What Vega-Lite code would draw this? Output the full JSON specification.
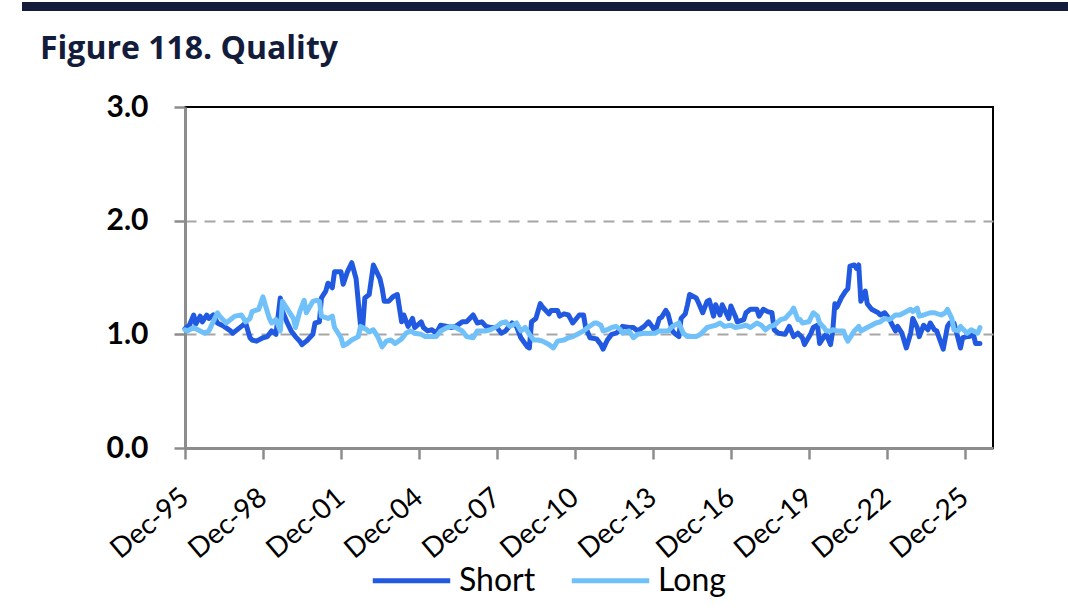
{
"$schema": "https://vega.github.io/schema/vega-lite/v6.json",
"padding": {"left": 22, "top": 0, "right": 0, "bottom": 0},
"background": "white",
"spacing": 20,
"config": {"view": {"stroke": null}, "font": "Lato"},
"datasets": {"q": [
{"d":"1995-12-01","k":"Short","v":1.05},{"d":"1996-02-01","k":"Short","v":1.08},{"d":"1996-04-01","k":"Short","v":1.17},{"d":"1996-05-01","k":"Short","v":1.09},{"d":"1996-07-01","k":"Short","v":1.16},{"d":"1996-08-01","k":"Short","v":1.11},{"d":"1996-10-01","k":"Short","v":1.17},{"d":"1996-11-01","k":"Short","v":1.14},{"d":"1997-01-01","k":"Short","v":1.17},{"d":"1997-03-01","k":"Short","v":1.10},{"d":"1997-06-01","k":"Short","v":1.07},{"d":"1997-09-01","k":"Short","v":1.03},{"d":"1997-10-01","k":"Short","v":1.01},{"d":"1998-02-01","k":"Short","v":1.07},{"d":"1998-04-01","k":"Short","v":1.10},{"d":"1998-06-01","k":"Short","v":0.97},{"d":"1998-07-01","k":"Short","v":0.95},{"d":"1998-09-01","k":"Short","v":0.94},{"d":"1998-12-01","k":"Short","v":0.97},{"d":"1999-02-01","k":"Short","v":0.98},{"d":"1999-04-01","k":"Short","v":1.03},{"d":"1999-06-01","k":"Short","v":1.00},{"d":"1999-08-01","k":"Short","v":1.32},{"d":"1999-09-01","k":"Short","v":1.20},{"d":"1999-11-01","k":"Short","v":1.11},{"d":"2000-01-01","k":"Short","v":1.03},{"d":"2000-03-01","k":"Short","v":0.98},{"d":"2000-05-01","k":"Short","v":0.94},{"d":"2000-06-01","k":"Short","v":0.91},{"d":"2000-08-01","k":"Short","v":0.94},{"d":"2000-11-01","k":"Short","v":1.00},{"d":"2000-12-01","k":"Short","v":1.10},{"d":"2001-02-01","k":"Short","v":1.11},{"d":"2001-03-01","k":"Short","v":1.32},{"d":"2001-05-01","k":"Short","v":1.38},{"d":"2001-06-01","k":"Short","v":1.45},{"d":"2001-08-01","k":"Short","v":1.41},{"d":"2001-09-01","k":"Short","v":1.55},{"d":"2001-12-01","k":"Short","v":1.55},{"d":"2002-01-01","k":"Short","v":1.44},{"d":"2002-03-01","k":"Short","v":1.55},{"d":"2002-05-01","k":"Short","v":1.63},{"d":"2002-07-01","k":"Short","v":1.49},{"d":"2002-09-01","k":"Short","v":1.08},{"d":"2002-10-01","k":"Short","v":1.06},{"d":"2002-11-01","k":"Short","v":1.32},{"d":"2003-01-01","k":"Short","v":1.35},{"d":"2003-03-01","k":"Short","v":1.61},{"d":"2003-06-01","k":"Short","v":1.49},{"d":"2003-07-01","k":"Short","v":1.41},{"d":"2003-08-01","k":"Short","v":1.29},{"d":"2003-10-01","k":"Short","v":1.29},{"d":"2003-12-01","k":"Short","v":1.33},{"d":"2004-02-01","k":"Short","v":1.35},{"d":"2004-04-01","k":"Short","v":1.11},{"d":"2004-05-01","k":"Short","v":1.17},{"d":"2004-07-01","k":"Short","v":1.07},{"d":"2004-09-01","k":"Short","v":1.14},{"d":"2004-10-01","k":"Short","v":1.06},{"d":"2005-01-01","k":"Short","v":1.11},{"d":"2005-02-01","k":"Short","v":1.06},{"d":"2005-04-01","k":"Short","v":1.03},{"d":"2005-06-01","k":"Short","v":1.04},{"d":"2005-08-01","k":"Short","v":1.01},{"d":"2005-10-01","k":"Short","v":1.08},{"d":"2006-01-01","k":"Short","v":1.07},{"d":"2006-03-01","k":"Short","v":1.06},{"d":"2006-05-01","k":"Short","v":1.07},{"d":"2006-08-01","k":"Short","v":1.11},{"d":"2006-10-01","k":"Short","v":1.11},{"d":"2007-01-01","k":"Short","v":1.17},{"d":"2007-03-01","k":"Short","v":1.10},{"d":"2007-05-01","k":"Short","v":1.11},{"d":"2007-07-01","k":"Short","v":1.07},{"d":"2007-09-01","k":"Short","v":1.06},{"d":"2007-12-01","k":"Short","v":1.06},{"d":"2008-02-01","k":"Short","v":1.01},{"d":"2008-04-01","k":"Short","v":1.03},{"d":"2008-07-01","k":"Short","v":1.10},{"d":"2008-09-01","k":"Short","v":1.07},{"d":"2008-11-01","k":"Short","v":0.97},{"d":"2009-02-01","k":"Short","v":0.89},{"d":"2009-03-01","k":"Short","v":0.88},{"d":"2009-04-01","k":"Short","v":1.11},{"d":"2009-06-01","k":"Short","v":1.14},{"d":"2009-08-01","k":"Short","v":1.27},{"d":"2009-09-01","k":"Short","v":1.24},{"d":"2009-12-01","k":"Short","v":1.18},{"d":"2010-01-01","k":"Short","v":1.21},{"d":"2010-04-01","k":"Short","v":1.21},{"d":"2010-05-01","k":"Short","v":1.16},{"d":"2010-07-01","k":"Short","v":1.18},{"d":"2010-09-01","k":"Short","v":1.17},{"d":"2010-11-01","k":"Short","v":1.10},{"d":"2011-02-01","k":"Short","v":1.17},{"d":"2011-04-01","k":"Short","v":1.17},{"d":"2011-05-01","k":"Short","v":1.06},{"d":"2011-07-01","k":"Short","v":0.97},{"d":"2011-10-01","k":"Short","v":0.96},{"d":"2011-12-01","k":"Short","v":0.91},{"d":"2012-01-01","k":"Short","v":0.87},{"d":"2012-03-01","k":"Short","v":0.95},{"d":"2012-05-01","k":"Short","v":1.00},{"d":"2012-07-01","k":"Short","v":1.01},{"d":"2012-09-01","k":"Short","v":1.04},{"d":"2012-10-01","k":"Short","v":1.07},{"d":"2013-01-01","k":"Short","v":1.06},{"d":"2013-03-01","k":"Short","v":1.06},{"d":"2013-05-01","k":"Short","v":1.03},{"d":"2013-08-01","k":"Short","v":1.07},{"d":"2013-10-01","k":"Short","v":1.11},{"d":"2013-12-01","k":"Short","v":1.06},{"d":"2014-01-01","k":"Short","v":1.02},{"d":"2014-03-01","k":"Short","v":1.14},{"d":"2014-04-01","k":"Short","v":1.15},{"d":"2014-06-01","k":"Short","v":1.21},{"d":"2014-07-01","k":"Short","v":1.18},{"d":"2014-09-01","k":"Short","v":1.03},{"d":"2014-10-01","k":"Short","v":1.01},{"d":"2014-12-01","k":"Short","v":0.98},{"d":"2015-01-01","k":"Short","v":1.14},{"d":"2015-03-01","k":"Short","v":1.18},{"d":"2015-04-01","k":"Short","v":1.26},{"d":"2015-05-01","k":"Short","v":1.35},{"d":"2015-08-01","k":"Short","v":1.32},{"d":"2015-09-01","k":"Short","v":1.28},{"d":"2015-11-01","k":"Short","v":1.19},{"d":"2016-01-01","k":"Short","v":1.29},{"d":"2016-02-01","k":"Short","v":1.30},{"d":"2016-04-01","k":"Short","v":1.16},{"d":"2016-05-01","k":"Short","v":1.26},{"d":"2016-07-01","k":"Short","v":1.17},{"d":"2016-08-01","k":"Short","v":1.26},{"d":"2016-11-01","k":"Short","v":1.14},{"d":"2016-12-01","k":"Short","v":1.25},{"d":"2017-02-01","k":"Short","v":1.16},{"d":"2017-03-01","k":"Short","v":1.11},{"d":"2017-06-01","k":"Short","v":1.13},{"d":"2017-07-01","k":"Short","v":1.19},{"d":"2017-09-01","k":"Short","v":1.22},{"d":"2017-12-01","k":"Short","v":1.22},{"d":"2018-01-01","k":"Short","v":1.16},{"d":"2018-03-01","k":"Short","v":1.22},{"d":"2018-05-01","k":"Short","v":1.20},{"d":"2018-07-01","k":"Short","v":1.19},{"d":"2018-08-01","k":"Short","v":1.04},{"d":"2018-10-01","k":"Short","v":1.01},{"d":"2019-01-01","k":"Short","v":1.00},{"d":"2019-03-01","k":"Short","v":1.07},{"d":"2019-05-01","k":"Short","v":0.98},{"d":"2019-07-01","k":"Short","v":1.01},{"d":"2019-09-01","k":"Short","v":0.97},{"d":"2019-10-01","k":"Short","v":0.91},{"d":"2020-01-01","k":"Short","v":1.01},{"d":"2020-02-01","k":"Short","v":1.06},{"d":"2020-04-01","k":"Short","v":1.08},{"d":"2020-05-01","k":"Short","v":0.92},{"d":"2020-07-01","k":"Short","v":0.98},{"d":"2020-08-01","k":"Short","v":1.00},{"d":"2020-10-01","k":"Short","v":0.91},{"d":"2020-11-01","k":"Short","v":1.03},{"d":"2020-12-01","k":"Short","v":1.27},{"d":"2021-01-01","k":"Short","v":1.24},{"d":"2021-03-01","k":"Short","v":1.32},{"d":"2021-05-01","k":"Short","v":1.38},{"d":"2021-06-01","k":"Short","v":1.40},{"d":"2021-07-01","k":"Short","v":1.60},{"d":"2021-09-01","k":"Short","v":1.61},{"d":"2021-10-01","k":"Short","v":1.58},{"d":"2021-11-01","k":"Short","v":1.61},{"d":"2021-12-01","k":"Short","v":1.29},{"d":"2022-02-01","k":"Short","v":1.38},{"d":"2022-03-01","k":"Short","v":1.27},{"d":"2022-05-01","k":"Short","v":1.22},{"d":"2022-08-01","k":"Short","v":1.19},{"d":"2022-09-01","k":"Short","v":1.17},{"d":"2022-11-01","k":"Short","v":1.19},{"d":"2023-01-01","k":"Short","v":1.14},{"d":"2023-02-01","k":"Short","v":1.10},{"d":"2023-04-01","k":"Short","v":1.03},{"d":"2023-05-01","k":"Short","v":1.07},{"d":"2023-07-01","k":"Short","v":1.01},{"d":"2023-09-01","k":"Short","v":0.88},{"d":"2023-11-01","k":"Short","v":1.01},{"d":"2023-12-01","k":"Short","v":1.14},{"d":"2024-02-01","k":"Short","v":1.06},{"d":"2024-03-01","k":"Short","v":0.98},{"d":"2024-05-01","k":"Short","v":1.08},{"d":"2024-07-01","k":"Short","v":1.04},{"d":"2024-08-01","k":"Short","v":1.10},{"d":"2024-10-01","k":"Short","v":1.04},{"d":"2024-11-01","k":"Short","v":1.03},{"d":"2025-02-01","k":"Short","v":0.87},{"d":"2025-04-01","k":"Short","v":1.07},{"d":"2025-05-01","k":"Short","v":1.10},{"d":"2025-07-01","k":"Short","v":1.10},{"d":"2025-08-01","k":"Short","v":1.03},{"d":"2025-10-01","k":"Short","v":0.88},{"d":"2025-11-01","k":"Short","v":0.97},{"d":"2026-01-01","k":"Short","v":0.98},{"d":"2026-02-01","k":"Short","v":0.98},{"d":"2026-04-01","k":"Short","v":1.00},{"d":"2026-05-01","k":"Short","v":0.92},{"d":"2026-07-01","k":"Short","v":0.92},
{"d":"1995-12-01","k":"Long","v":1.04},{"d":"1996-01-01","k":"Long","v":1.03},{"d":"1996-04-01","k":"Long","v":1.06},{"d":"1996-07-01","k":"Long","v":1.03},{"d":"1996-09-01","k":"Long","v":1.01},{"d":"1996-11-01","k":"Long","v":1.03},{"d":"1997-03-01","k":"Long","v":1.19},{"d":"1997-04-01","k":"Long","v":1.16},{"d":"1997-07-01","k":"Long","v":1.10},{"d":"1997-09-01","k":"Long","v":1.13},{"d":"1997-11-01","k":"Long","v":1.16},{"d":"1998-02-01","k":"Long","v":1.17},{"d":"1998-04-01","k":"Long","v":1.11},{"d":"1998-06-01","k":"Long","v":1.14},{"d":"1998-07-01","k":"Long","v":1.20},{"d":"1998-10-01","k":"Long","v":1.22},{"d":"1998-12-01","k":"Long","v":1.33},{"d":"1999-01-01","k":"Long","v":1.26},{"d":"1999-03-01","k":"Long","v":1.14},{"d":"1999-04-01","k":"Long","v":1.10},{"d":"1999-06-01","k":"Long","v":1.13},{"d":"1999-08-01","k":"Long","v":1.03},{"d":"1999-09-01","k":"Long","v":1.29},{"d":"1999-12-01","k":"Long","v":1.20},{"d":"2000-02-01","k":"Long","v":1.14},{"d":"2000-03-01","k":"Long","v":1.06},{"d":"2000-05-01","k":"Long","v":1.20},{"d":"2000-07-01","k":"Long","v":1.30},{"d":"2000-08-01","k":"Long","v":1.19},{"d":"2000-11-01","k":"Long","v":1.29},{"d":"2001-01-01","k":"Long","v":1.30},{"d":"2001-02-01","k":"Long","v":1.29},{"d":"2001-03-01","k":"Long","v":1.16},{"d":"2001-06-01","k":"Long","v":1.14},{"d":"2001-08-01","k":"Long","v":1.16},{"d":"2001-09-01","k":"Long","v":1.06},{"d":"2001-12-01","k":"Long","v":0.97},{"d":"2002-01-01","k":"Long","v":0.90},{"d":"2002-03-01","k":"Long","v":0.92},{"d":"2002-05-01","k":"Long","v":0.95},{"d":"2002-08-01","k":"Long","v":0.98},{"d":"2002-09-01","k":"Long","v":1.07},{"d":"2002-12-01","k":"Long","v":1.04},{"d":"2003-01-01","k":"Long","v":1.02},{"d":"2003-03-01","k":"Long","v":1.04},{"d":"2003-05-01","k":"Long","v":0.98},{"d":"2003-07-01","k":"Long","v":0.89},{"d":"2003-09-01","k":"Long","v":0.94},{"d":"2003-11-01","k":"Long","v":0.95},{"d":"2004-01-01","k":"Long","v":0.92},{"d":"2004-04-01","k":"Long","v":0.96},{"d":"2004-06-01","k":"Long","v":1.01},{"d":"2004-08-01","k":"Long","v":1.03},{"d":"2004-10-01","k":"Long","v":1.01},{"d":"2005-01-01","k":"Long","v":1.00},{"d":"2005-03-01","k":"Long","v":0.98},{"d":"2005-06-01","k":"Long","v":0.98},{"d":"2005-08-01","k":"Long","v":0.98},{"d":"2005-10-01","k":"Long","v":1.03},{"d":"2006-01-01","k":"Long","v":1.06},{"d":"2006-03-01","k":"Long","v":1.07},{"d":"2006-05-01","k":"Long","v":1.06},{"d":"2006-08-01","k":"Long","v":1.03},{"d":"2006-10-01","k":"Long","v":0.98},{"d":"2007-01-01","k":"Long","v":0.97},{"d":"2007-03-01","k":"Long","v":1.03},{"d":"2007-05-01","k":"Long","v":1.03},{"d":"2007-07-01","k":"Long","v":1.03},{"d":"2007-09-01","k":"Long","v":1.04},{"d":"2007-12-01","k":"Long","v":1.07},{"d":"2008-02-01","k":"Long","v":1.10},{"d":"2008-04-01","k":"Long","v":1.11},{"d":"2008-06-01","k":"Long","v":1.07},{"d":"2008-09-01","k":"Long","v":1.10},{"d":"2008-11-01","k":"Long","v":1.03},{"d":"2009-01-01","k":"Long","v":1.06},{"d":"2009-03-01","k":"Long","v":1.00},{"d":"2009-05-01","k":"Long","v":0.95},{"d":"2009-07-01","k":"Long","v":0.95},{"d":"2009-09-01","k":"Long","v":0.94},{"d":"2009-12-01","k":"Long","v":0.91},{"d":"2010-02-01","k":"Long","v":0.88},{"d":"2010-04-01","k":"Long","v":0.94},{"d":"2010-07-01","k":"Long","v":0.95},{"d":"2010-09-01","k":"Long","v":0.97},{"d":"2010-11-01","k":"Long","v":0.98},{"d":"2011-02-01","k":"Long","v":1.01},{"d":"2011-04-01","k":"Long","v":1.03},{"d":"2011-06-01","k":"Long","v":1.06},{"d":"2011-09-01","k":"Long","v":1.10},{"d":"2011-10-01","k":"Long","v":1.10},{"d":"2011-12-01","k":"Long","v":1.08},{"d":"2012-01-01","k":"Long","v":1.03},{"d":"2012-03-01","k":"Long","v":1.04},{"d":"2012-05-01","k":"Long","v":1.06},{"d":"2012-07-01","k":"Long","v":1.07},{"d":"2012-09-01","k":"Long","v":1.04},{"d":"2012-10-01","k":"Long","v":1.01},{"d":"2013-01-01","k":"Long","v":1.03},{"d":"2013-03-01","k":"Long","v":0.97},{"d":"2013-05-01","k":"Long","v":1.00},{"d":"2013-08-01","k":"Long","v":1.01},{"d":"2013-10-01","k":"Long","v":1.01},{"d":"2014-01-01","k":"Long","v":1.01},{"d":"2014-03-01","k":"Long","v":1.03},{"d":"2014-05-01","k":"Long","v":1.03},{"d":"2014-07-01","k":"Long","v":1.03},{"d":"2014-09-01","k":"Long","v":1.07},{"d":"2014-12-01","k":"Long","v":1.10},{"d":"2015-02-01","k":"Long","v":1.01},{"d":"2015-04-01","k":"Long","v":0.98},{"d":"2015-05-01","k":"Long","v":0.98},{"d":"2015-08-01","k":"Long","v":0.98},{"d":"2015-10-01","k":"Long","v":1.00},{"d":"2016-01-01","k":"Long","v":1.06},{"d":"2016-03-01","k":"Long","v":1.07},{"d":"2016-05-01","k":"Long","v":1.08},{"d":"2016-07-01","k":"Long","v":1.10},{"d":"2016-09-01","k":"Long","v":1.07},{"d":"2016-12-01","k":"Long","v":1.08},{"d":"2017-02-01","k":"Long","v":1.06},{"d":"2017-05-01","k":"Long","v":1.07},{"d":"2017-07-01","k":"Long","v":1.08},{"d":"2017-09-01","k":"Long","v":1.06},{"d":"2017-12-01","k":"Long","v":1.10},{"d":"2018-02-01","k":"Long","v":1.08},{"d":"2018-04-01","k":"Long","v":1.04},{"d":"2018-06-01","k":"Long","v":1.07},{"d":"2018-08-01","k":"Long","v":1.08},{"d":"2018-11-01","k":"Long","v":1.13},{"d":"2019-01-01","k":"Long","v":1.14},{"d":"2019-04-01","k":"Long","v":1.20},{"d":"2019-05-01","k":"Long","v":1.23},{"d":"2019-07-01","k":"Long","v":1.13},{"d":"2019-08-01","k":"Long","v":1.13},{"d":"2019-09-01","k":"Long","v":1.10},{"d":"2019-12-01","k":"Long","v":1.11},{"d":"2020-02-01","k":"Long","v":1.19},{"d":"2020-04-01","k":"Long","v":1.16},{"d":"2020-05-01","k":"Long","v":1.10},{"d":"2020-07-01","k":"Long","v":1.06},{"d":"2020-08-01","k":"Long","v":1.03},{"d":"2020-10-01","k":"Long","v":1.03},{"d":"2020-11-01","k":"Long","v":1.04},{"d":"2021-01-01","k":"Long","v":1.03},{"d":"2021-04-01","k":"Long","v":1.03},{"d":"2021-05-01","k":"Long","v":0.98},{"d":"2021-06-01","k":"Long","v":0.94},{"d":"2021-09-01","k":"Long","v":1.03},{"d":"2021-11-01","k":"Long","v":1.07},{"d":"2021-12-01","k":"Long","v":1.03},{"d":"2022-03-01","k":"Long","v":1.06},{"d":"2022-05-01","k":"Long","v":1.08},{"d":"2022-07-01","k":"Long","v":1.10},{"d":"2022-09-01","k":"Long","v":1.11},{"d":"2022-11-01","k":"Long","v":1.14},{"d":"2023-01-01","k":"Long","v":1.13},{"d":"2023-02-01","k":"Long","v":1.14},{"d":"2023-04-01","k":"Long","v":1.17},{"d":"2023-06-01","k":"Long","v":1.17},{"d":"2023-08-01","k":"Long","v":1.19},{"d":"2023-11-01","k":"Long","v":1.22},{"d":"2023-12-01","k":"Long","v":1.20},{"d":"2024-02-01","k":"Long","v":1.23},{"d":"2024-03-01","k":"Long","v":1.16},{"d":"2024-05-01","k":"Long","v":1.17},{"d":"2024-08-01","k":"Long","v":1.19},{"d":"2024-10-01","k":"Long","v":1.19},{"d":"2025-01-01","k":"Long","v":1.17},{"d":"2025-03-01","k":"Long","v":1.19},{"d":"2025-04-01","k":"Long","v":1.22},{"d":"2025-06-01","k":"Long","v":1.14},{"d":"2025-07-01","k":"Long","v":1.04},{"d":"2025-09-01","k":"Long","v":1.03},{"d":"2025-10-01","k":"Long","v":1.07},{"d":"2025-12-01","k":"Long","v":1.03},{"d":"2026-01-01","k":"Long","v":1.01},{"d":"2026-03-01","k":"Long","v":1.04},{"d":"2026-04-01","k":"Long","v":1.03},{"d":"2026-06-01","k":"Long","v":1.01},{"d":"2026-07-01","k":"Long","v":1.06}
]},
"vconcat": [
{
"width": 1046, "height": 9,
"data": {"values": [{}]},
"mark": {"type": "text", "text": ""},
"encoding": {},
"view": {"fill": "#131c3a", "stroke": null}
},
{
"spacing": 0,
"hconcat": [
{
"width": 1, "height": 1,
"data": {"values": [{}]},
"mark": {"type": "text", "text": ""},
"encoding": {},
"view": {"stroke": null}
},
{
"width": 808, "height": 341,
"data": {"name": "q"},
"title": {"text": "Figure 118. Quality", "anchor": "start", "frame": "bounds", "font": "Open Sans", "fontSize": 32, "fontWeight": "bold", "color": "#141c3b", "dx": 16, "offset": 26},
"view": {"stroke": "#000000", "strokeWidth": 2},
"encoding": {
"x": {"field": "d", "type": "temporal",
"scale": {"domain": [{"year": 1995, "month": 12, "date": 1}, {"year": 2027, "month": 1, "date": 1}]},
"axis": {"title": null, "grid": false, "format": "%b-%y", "labelAngle": -40, "labelAlign": "right", "labelBaseline": "middle", "labelFont": "Lato", "labelFontSize": 28, "labelColor": "#000000", "labelPadding": 35, "labelOverlap": false, "labelFlush": false,
"values": [{"year": 1995, "month": 12, "date": 1}, {"year": 1998, "month": 12, "date": 1}, {"year": 2001, "month": 12, "date": 1}, {"year": 2004, "month": 12, "date": 1}, {"year": 2007, "month": 12, "date": 1}, {"year": 2010, "month": 12, "date": 1}, {"year": 2013, "month": 12, "date": 1}, {"year": 2016, "month": 12, "date": 1}, {"year": 2019, "month": 12, "date": 1}, {"year": 2022, "month": 12, "date": 1}, {"year": 2025, "month": 12, "date": 1}],
"domainColor": "#8c8c8c", "domainWidth": 3, "tickColor": "#8c8c8c", "tickWidth": 2.5, "tickSize": 11}},
"y": {"field": "v", "type": "quantitative",
"scale": {"domain": [0, 3]},
"axis": {"title": null, "values": [0, 1, 2, 3], "format": ".1f", "grid": true, "gridDash": [11, 8], "gridColor": "#a6a6a6", "gridWidth": 2,
"gridOpacity": {"condition": {"test": "datum.value === 1 || datum.value === 2", "value": 1}, "value": 0},
"labelFont": "Lato", "labelFontWeight": "bold", "labelFontSize": 30, "labelColor": "#000000", "labelPadding": 26, "minExtent": 161,
"domainColor": "#8c8c8c", "domainWidth": 3, "tickColor": "#8c8c8c", "tickWidth": 2.5, "tickSize": 11}},
"color": {"field": "k", "type": "nominal",
"scale": {"domain": ["Short", "Long"], "range": ["#2159e0", "#70c0fa"]},
"legend": {"title": null, "orient": "none", "legendX": 348, "legendY": 537, "direction": "horizontal", "symbolType": "stroke", "symbolSize": 6000, "symbolStrokeWidth": 5, "labelFont": "Lato", "labelFontSize": 32, "labelColor": "#000000", "labelOffset": 6, "columnPadding": 25, "padding": 0}}
},
"layer": [
{"transform": [{"filter": "datum.k === 'Short'"}], "mark": {"type": "line", "strokeWidth": 5, "strokeJoin": "round", "strokeCap": "round"}},
{"transform": [{"filter": "datum.k === 'Long'"}], "mark": {"type": "line", "strokeWidth": 5, "strokeJoin": "round", "strokeCap": "round"}}
]
}
]
}
]
}
